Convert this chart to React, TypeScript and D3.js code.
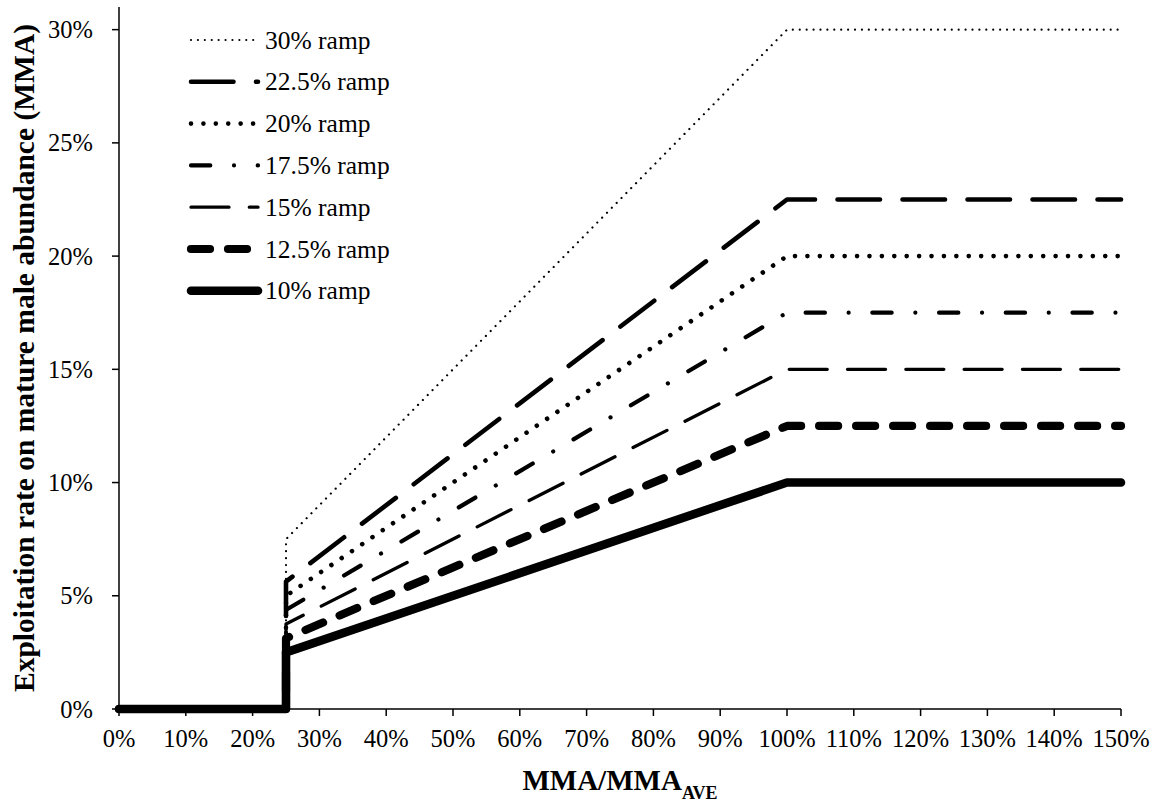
import React from "react";
import * as d3 from "d3";

// ---- data ----
const xValues = [0, 0.25, 0.25, 1.0, 1.5];
const ramp30 = [0, 0, 0.075, 0.3, 0.3];
const ramp225 = [0, 0, 0.05625, 0.225, 0.225];
const ramp20 = [0, 0, 0.05, 0.2, 0.2];
const ramp175 = [0, 0, 0.04375, 0.175, 0.175];
const ramp15 = [0, 0, 0.0375, 0.15, 0.15];
const ramp125 = [0, 0, 0.03125, 0.125, 0.125];
const ramp10 = [0, 0, 0.025, 0.1, 0.1];
const seriesNames = ["30% ramp", "22.5% ramp", "20% ramp", "17.5% ramp", "15% ramp", "12.5% ramp", "10% ramp"];
const xTicks = [0, 0.1, 0.2, 0.3, 0.4, 0.5, 0.6, 0.7, 0.8, 0.9, 1.0, 1.1, 1.2, 1.3, 1.4, 1.5];
const yTicks = [0, 0.05, 0.1, 0.15, 0.2, 0.25, 0.3];

const seriesValues = [ramp30, ramp225, ramp20, ramp175, ramp15, ramp125, ramp10];

const styles = [
  { w: 2.2, dash: "0.01 6.9" },
  { w: 4.6, dash: "42.5 22.5" },
  { w: 4.6, dash: "0.01 12.4" },
  { w: 4.2, dash: "19.3 23.7 0.01 23.7" },
  { w: 3.3, dash: "38 20.3" },
  { w: 8.2, dash: "19 18" },
  { w: 8.6, dash: "none" },
];

const FONT = "'Liberation Serif', 'Times New Roman', serif";

export default function App() {
  const W = 1156, H = 802;
  const x0 = 119, x1 = 1121, yBottom = 709, yTop = 7;
  const x = d3.scaleLinear().domain([0, 1.5]).range([x0, x1]);
  const y = d3.scaleLinear().domain([0, 0.31]).range([yBottom, yTop]);
  const line = d3
    .line<number>()
    .x((_, i) => x(xValues[i]))
    .y((d) => y(d));
  const fmt = (v: number) => `${Math.round(v * 100)}%`;

  return (
    <svg
      width={W}
      height={H}
      style={{ position: "absolute", left: 0, top: 0, display: "block", background: "#fff" }}
      fontFamily={FONT}
    >
      {/* axes */}
      <line x1={x0} x2={x1} y1={yBottom} y2={yBottom} stroke="#000" strokeWidth={1.5} />
      <line x1={x0} x2={x0} y1={yTop} y2={yBottom} stroke="#000" strokeWidth={1.5} />
      {xTicks.map((t) => (
        <g key={"xt" + t}>
          <line x1={x(t)} x2={x(t)} y1={yBottom} y2={yBottom + 7} stroke="#000" strokeWidth={1.5} />
          <text x={x(t)} y={747} fontSize={24.5} textAnchor="middle" fill="#000">
            {fmt(t)}
          </text>
        </g>
      ))}
      {yTicks.map((t) => (
        <g key={"yt" + t}>
          <line x1={x0 - 7} x2={x0} y1={y(t)} y2={y(t)} stroke="#000" strokeWidth={1.5} />
          <text x={93} y={y(t) + 8.5} fontSize={24.5} textAnchor="end" fill="#000">
            {fmt(t)}
          </text>
        </g>
      ))}

      {/* series */}
      {seriesValues.map((vals, i) => (
        <path
          key={"s" + i}
          d={line(vals) || ""}
          fill="none"
          stroke="#000"
          strokeWidth={styles[i].w}
          strokeDasharray={styles[i].dash}
          strokeLinecap="round"
          strokeLinejoin="round"
        />
      ))}

      {/* legend */}
      {seriesNames.map((name, i) => {
        const ly = 40 + 41.8 * i;
        return (
          <g key={"lg" + i}>
            <line
              x1={191}
              x2={258}
              y1={ly}
              y2={ly}
              stroke="#000"
              strokeWidth={styles[i].w}
              strokeDasharray={styles[i].dash}
              strokeLinecap="round"
            />
            <text x={265} y={ly + 8.5} fontSize={25.5} fill="#000">
              {name}
            </text>
          </g>
        );
      })}

      {/* axis titles */}
      <text x={620} y={790} fontSize={29} fontWeight="bold" textAnchor="middle" fill="#000">
        MMA/MMA
        <tspan fontSize={18} dy={9}>AVE</tspan>
      </text>
      <text
        transform={`translate(34, ${(yTop + yBottom) / 2}) rotate(-90)`}
        fontSize={29.5}
        fontWeight="bold"
        textAnchor="middle"
        fill="#000"
      >
        Exploitation rate on mature male abundance (MMA)
      </text>
    </svg>
  );
}
